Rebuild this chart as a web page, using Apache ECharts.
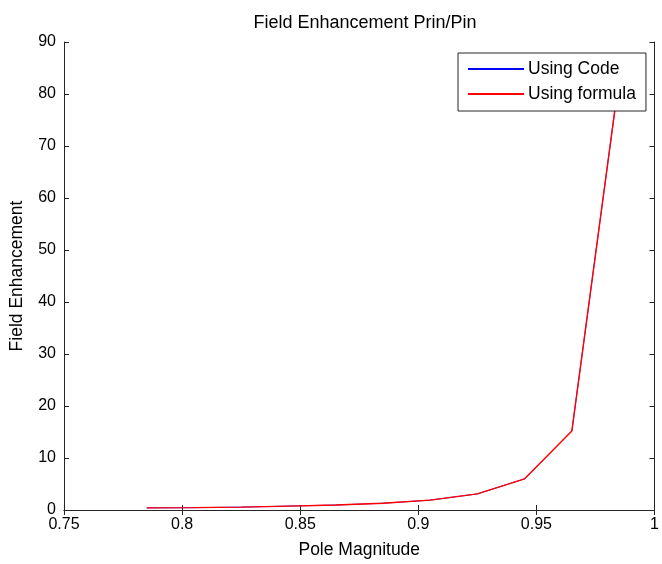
<!DOCTYPE html>
<html>
<head>
<meta charset="utf-8">
<script src="https://cdn.jsdelivr.net/npm/echarts@6/dist/echarts.min.js"></script>
<style>
  html, body { margin: 0; padding: 0; background: #fff; }
  #chart { width: 662px; height: 564px; }
</style>
</head>
<body>
<div id="chart"></div>
<script>
// Pole magnitudes and the resulting field enhancement
const poleMagnitude = [0.785, 0.805, 0.825, 0.845, 0.865, 0.885, 0.905, 0.925, 0.945, 0.965, 0.985];
const usingCode    = [0.4, 0.45, 0.55, 0.75, 0.95, 1.3, 1.9, 3.1, 6.0, 15.2, 83];
const usingFormula = [0.4, 0.45, 0.55, 0.75, 0.95, 1.3, 1.9, 3.1, 6.0, 15.2, 83];

const xTicks = { min: 0.75, max: 1, interval: 0.05 };
const yTicks = { min: 0, max: 90, interval: 10 };

const FONT = '"Liberation Sans", Arial, sans-serif';
const AXIS_COLOR = '#262626';

function pairs(xs, ys) { return xs.map((x, i) => [x, ys[i]]); }

const chart = echarts.init(document.getElementById('chart'), null, { renderer: 'canvas' });

const baseX = {
  type: 'value', min: xTicks.min, max: xTicks.max, interval: xTicks.interval,
  axisLine: { show: true, lineStyle: { color: AXIS_COLOR, width: 1 } },
  axisTick: { show: true, inside: true, length: 5, lineStyle: { color: AXIS_COLOR } },
  splitLine: { show: false }
};
const baseY = {
  type: 'value', min: yTicks.min, max: yTicks.max, interval: yTicks.interval,
  axisLine: { show: true, lineStyle: { color: AXIS_COLOR, width: 1 } },
  axisTick: { show: true, inside: true, length: 5, lineStyle: { color: AXIS_COLOR } },
  splitLine: { show: false }
};

chart.setOption({
  backgroundColor: '#fff',
  animation: false,
  title: {
    text: 'Field Enhancement Prin/Pin',
    left: 360, top: 9, textAlign: 'center',
    textStyle: { fontFamily: FONT, fontSize: 18, fontWeight: 'normal', color: '#000' }
  },
  grid: { left: 64, right: 2, top: 42, bottom: 52, containLabel: false },
  legend: {
    orient: 'vertical',
    left: 458, top: 53,
    padding: [7, 10, 8, 10],
    itemGap: 7,
    itemWidth: 56, itemHeight: 2,
    icon: 'rect',
    backgroundColor: '#fff',
    borderColor: AXIS_COLOR, borderWidth: 1, borderRadius: 0,
    textStyle: { fontFamily: FONT, fontSize: 17.5, color: '#000', padding: [0, 0, 0, -1] },
    data: ['Using Code', 'Using formula']
  },
  xAxis: [
    Object.assign({}, baseX, {
      position: 'bottom',
      name: 'Pole Magnitude', nameLocation: 'middle', nameGap: 31,
      nameTextStyle: { fontFamily: FONT, fontSize: 17.5, color: '#000' },
      axisLabel: { show: true, margin: 7, color: '#000', fontFamily: FONT, fontSize: 16 }
    }),
    Object.assign({}, baseX, { position: 'top', axisLabel: { show: false } })
  ],
  yAxis: [
    Object.assign({}, baseY, {
      position: 'left',
      name: 'Field Enhancement', nameLocation: 'middle', nameGap: 38,
      nameTextStyle: { fontFamily: FONT, fontSize: 17.5, color: '#000' },
      axisLabel: { show: true, margin: 8, color: '#000', fontFamily: FONT, fontSize: 16 }
    }),
    Object.assign({}, baseY, { position: 'right', axisLabel: { show: false } })
  ],
  series: [
    {
      // drawn underneath; the formula curve coincides with it
      name: 'Using Code', type: 'line', xAxisIndex: 0, yAxisIndex: 0,
      data: pairs(poleMagnitude, usingCode),
      symbol: 'none', color: '#0000ff',
      lineStyle: { color: '#0000ff', width: 0.8 }, z: 2
    },
    {
      name: 'Using formula', type: 'line', xAxisIndex: 0, yAxisIndex: 0,
      data: pairs(poleMagnitude, usingFormula),
      symbol: 'none', color: '#ff0000',
      lineStyle: { color: '#ff0000', width: 1.4 }, z: 3
    }
  ]
});
</script>
</body>
</html>
